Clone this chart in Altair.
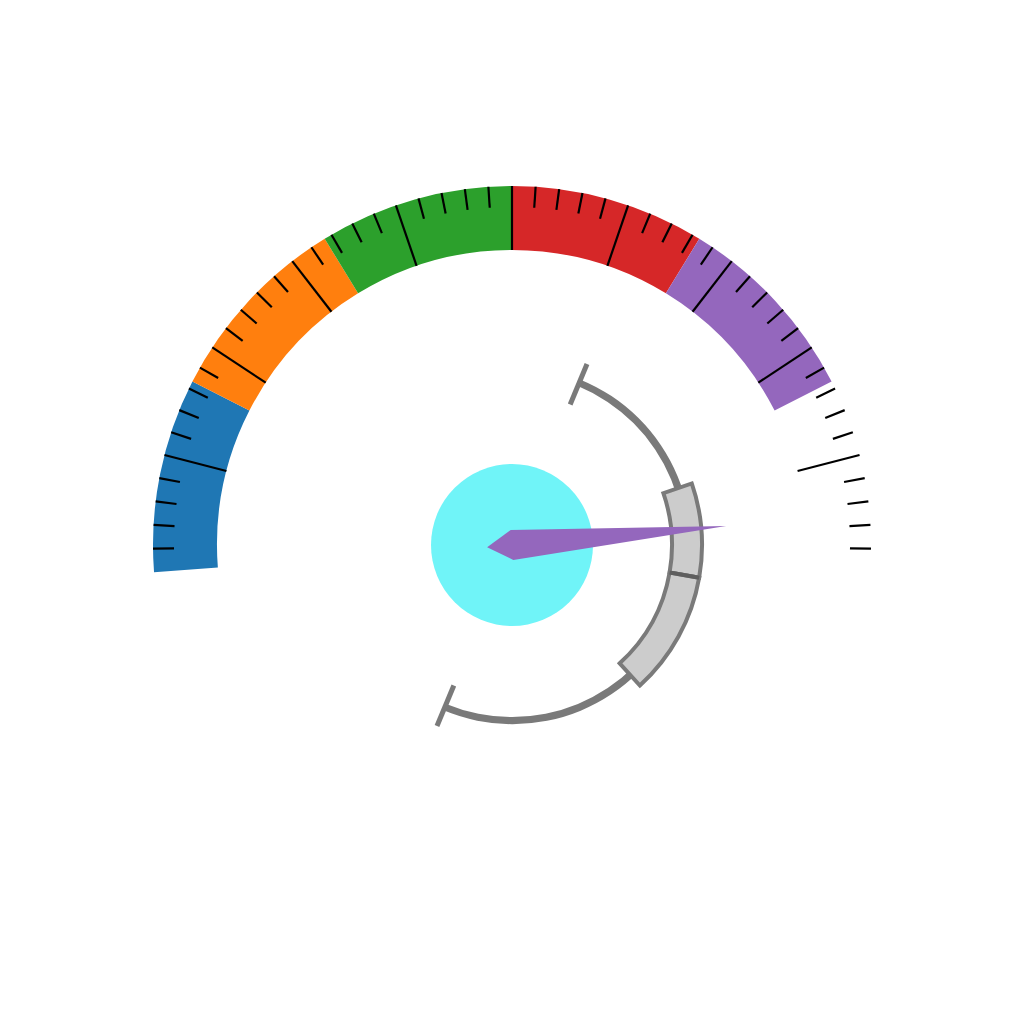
import math
import altair as alt
import pandas as pd

# ---------------- data ----------------
outer_band_from = [0.0, 100 / 6, 200 / 6, 300 / 6, 400 / 6]
outer_band_to = [100 / 6, 200 / 6, 300 / 6, 400 / 6, 500 / 6]
outer_band_color = ["#1f77b4", "#ff7f0e", "#2ca02c", "#d62728", "#9467bd"]
outer_tick_values = list(range(2, 100, 2))
outer_major_step = 10
inner_track = [0, 100]
inner_band_from = [27, 43]
inner_band_to = [43, 64]
inner_divider = [43]
needle_value = [95]

# ---------------- geometry / style ----------------
OUT_A0, OUT_A1 = -94.35, 94.35      # outer gauge sweep (deg, clockwise from 12 o'clock)
IN_A0, IN_A1 = 22.5, 202.5          # inner gauge sweep
W, H, TOP = 1024, 958, 66
GRAY = "#7a7a7a"

xs = alt.Scale(domain=[-W / 2, W / 2], nice=False, zero=False)
ys = alt.Scale(domain=[-H / 2, H / 2], nice=False, zero=False)
outer_theta = alt.Scale(domain=[0, 100], range=[math.radians(OUT_A0), math.radians(OUT_A1)])
inner_theta = alt.Scale(domain=[0, 100], range=[math.radians(IN_A0), math.radians(IN_A1)])


def radial_rules(values, a0, a1, r_in_expr, r_out_expr, color, width):
    ang = f"({a0} + (datum.v / 100) * ({a1 - a0})) * PI / 180"
    return (
        alt.Chart(pd.DataFrame({"v": values}))
        .transform_calculate(ang=ang)
        .transform_calculate(rin=r_in_expr, rout=r_out_expr)
        .transform_calculate(
            px1="datum.rin * sin(datum.ang)",
            py1="datum.rin * cos(datum.ang)",
            px2="datum.rout * sin(datum.ang)",
            py2="datum.rout * cos(datum.ang)",
        )
        .mark_rule(color=color, strokeWidth=width)
        .encode(
            x=alt.X("px1:Q", scale=xs, axis=None),
            y=alt.Y("py1:Q", scale=ys, axis=None),
            x2="px2:Q",
            y2="py2:Q",
        )
    )


# outer coloured bands
bands = (
    alt.Chart(pd.DataFrame({"a": outer_band_from, "b": outer_band_to, "c": outer_band_color}))
    .mark_arc(radius=359, radius2=295)
    .encode(
        theta=alt.Theta("a:Q", scale=outer_theta, stack=None),
        theta2="b:Q",
        color=alt.Color("c:N", scale=None),
    )
)

# outer ticks
ticks = radial_rules(
    outer_tick_values, OUT_A0, OUT_A1,
    f"datum.v % {outer_major_step} == 0 ? 295 : 338", "359",
    "black", 2.2,
)

# inner thin track
track = (
    alt.Chart(pd.DataFrame({"a": [inner_track[0]], "b": [inner_track[1]]}))
    .mark_arc(radius=179, radius2=172, color=GRAY)
    .encode(theta=alt.Theta("a:Q", scale=inner_theta, stack=None), theta2="b:Q")
)
track_ends = radial_rules(inner_track, IN_A0, IN_A1, "152", "196", GRAY, 5)

# inner bands
inner_bands = (
    alt.Chart(pd.DataFrame({"a": inner_band_from, "b": inner_band_to}))
    .mark_arc(radius=190, radius2=160, fill="#cccccc", stroke=GRAY, strokeWidth=4)
    .encode(theta=alt.Theta("a:Q", scale=inner_theta, stack=None), theta2="b:Q")
)
divider = radial_rules(inner_divider, IN_A0, IN_A1, "160", "190", "#5e5e5e", 4)

# hub
hub = (
    alt.Chart(pd.DataFrame({"k": [0]}))
    .transform_calculate(cx="0", cy="0")
    .mark_point(shape="circle", filled=True, color="#70f4f8", opacity=1, size=162 ** 2)
    .encode(x=alt.X("cx:Q", scale=xs, axis=None), y=alt.Y("cy:Q", scale=ys, axis=None))
)

# needle
needle = (
    alt.Chart(pd.DataFrame({"v": needle_value}))
    .transform_calculate(cx="0", cy="0")
    .mark_point(
        shape="M 0 -215 L 15 0 L 0 25 L -15 0 Z",
        filled=True, color="#9467bd", opacity=1, size=4,
    )
    .encode(
        x=alt.X("cx:Q", scale=xs, axis=None),
        y=alt.Y("cy:Q", scale=ys, axis=None),
        angle=alt.Angle("v:Q", scale=alt.Scale(domain=[0, 100], range=[360 + OUT_A0, 360 + OUT_A1])),
    )
)

chart = (
    alt.layer(bands, ticks, track, track_ends, inner_bands, divider, hub, needle)
    .resolve_scale(theta="independent")
    .properties(
        width=W, height=H,
        autosize=alt.AutoSizeParams(type="none"),
        padding={"left": 0, "right": 0, "top": TOP, "bottom": 0},
    )
    .configure_view(stroke=None)
)

chart.save("out.html", embed_options={"renderer": "svg", "actions": False})
